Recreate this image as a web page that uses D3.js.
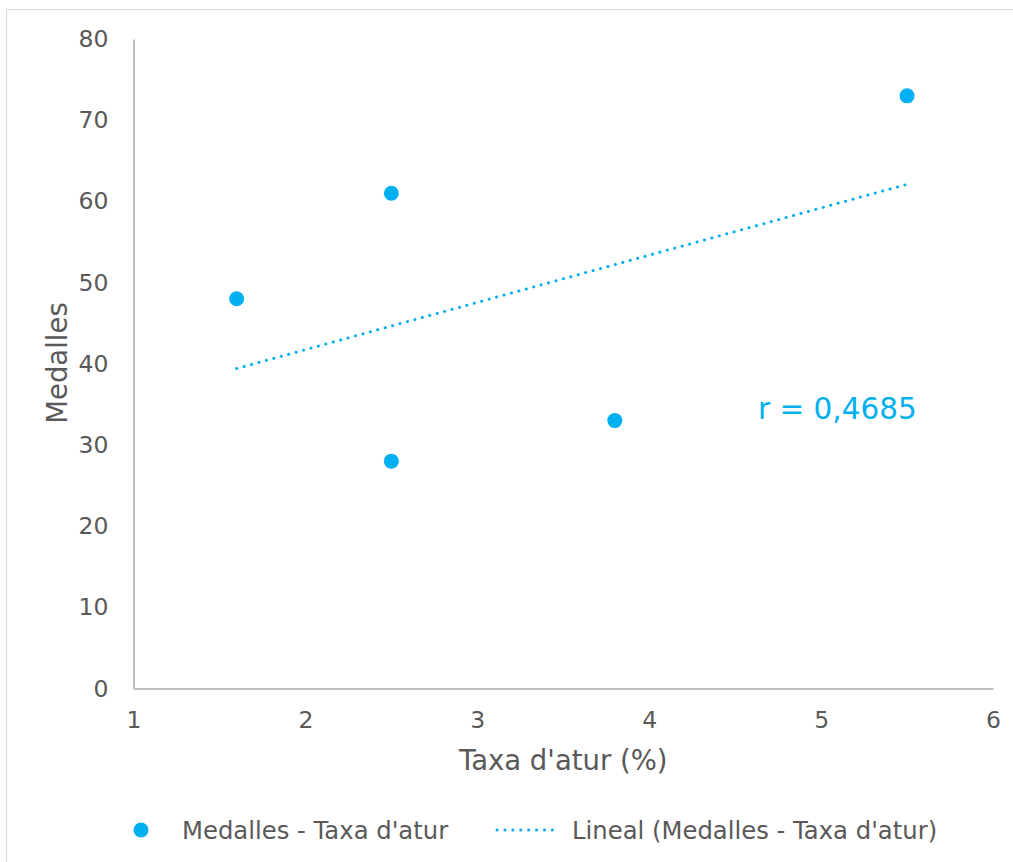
<!DOCTYPE html>
<html><head><meta charset="utf-8">
<script src="https://cdn.jsdelivr.net/npm/d3@7"></script>
<style>body{margin:0;background:#fff}svg{display:block}text{font-family:"DejaVu Sans",Verdana,sans-serif}</style>
</head><body>
<script>
const taxaAtur = [1.6, 2.5, 2.5, 3.8, 5.5];
const medalles = [48, 61, 28, 33, 73];
const xTicks = [1, 2, 3, 4, 5, 6];
const yTicks = [0, 10, 20, 30, 40, 50, 60, 70, 80];
const xTitle = "Taxa d'atur (%)";
const yTitle = "Medalles";
const seriesName = "Medalles - Taxa d'atur";
const trendName = "Lineal (Medalles - Taxa d'atur)";

const W = 1013, H = 862, color = "#00B0F0", textCol = "#595959", axisCol = "#bfbfbf";
const svg = d3.select("body").append("svg").attr("width", W).attr("height", H);
svg.append("rect").attr("x", 6.5).attr("y", 9.5).attr("width", 1030).attr("height", 880)
  .attr("fill", "#fff").attr("stroke", "#d9d9d9").attr("stroke-width", 1);

const x = d3.scaleLinear().domain([1, 6]).range([133.5, 993]);
const y = d3.scaleLinear().domain([0, 80]).range([688.5, 39]);

const xAxis = d3.axisBottom(x).tickValues(xTicks).tickSize(0).tickPadding(23).tickFormat(d3.format("d"));
const gx = svg.append("g").attr("transform", `translate(0,${y(0)})`).call(xAxis);
const yAxis = d3.axisLeft(y).tickValues(yTicks).tickSize(0).tickPadding(25).tickFormat(d3.format("d"));
const gy = svg.append("g").attr("transform", `translate(${x(1)},0)`).call(yAxis);
[gx, gy].forEach(g => {
  g.select(".domain").attr("stroke", axisCol).attr("stroke-width", 2);
  g.selectAll("text").attr("fill", textCol).attr("font-size", 23.5).attr("font-family", "DejaVu Sans");
});
gx.selectAll("text").attr("dy", "0.71em");

// regression
const n = taxaAtur.length;
const mx = d3.mean(taxaAtur), my = d3.mean(medalles);
let sxx = 0, sxy = 0, syy = 0;
for (let i = 0; i < n; i++) { const dx = taxaAtur[i]-mx, dy = medalles[i]-my; sxx += dx*dx; sxy += dx*dy; syy += dy*dy; }
const slope = sxy / sxx, icpt = my - slope * mx, r = sxy / Math.sqrt(sxx * syy);
const x0 = d3.min(taxaAtur), x1 = d3.max(taxaAtur);
svg.append("line").attr("x1", x(x0)).attr("y1", y(icpt + slope*x0)).attr("x2", x(x1)).attr("y2", y(icpt + slope*x1))
  .attr("stroke", color).attr("stroke-width", 3).attr("stroke-linecap", "round").attr("stroke-dasharray", "0.1 7.6");

svg.selectAll("circle.pt").data(taxaAtur).enter().append("circle").attr("class", "pt")
  .attr("cx", d => x(d)).attr("cy", (d, i) => y(medalles[i])).attr("r", 7.5).attr("fill", color);

svg.append("text").attr("x", 758).attr("y", 419).attr("fill", color).attr("font-size", 29.5)
  .text("r = " + r.toFixed(4).replace(".", ","));

svg.append("text").attr("x", x(3.5)).attr("y", 770).attr("text-anchor", "middle").attr("fill", textCol).attr("font-size", 27.5).text(xTitle);
svg.append("text").attr("transform", "translate(67,363) rotate(-90)").attr("text-anchor", "middle").attr("fill", textCol).attr("font-size", 27.5).text(yTitle);

// legend
const lg = svg.append("g");
lg.append("circle").attr("cx", 141).attr("cy", 830).attr("r", 7.5).attr("fill", color);
lg.append("text").attr("x", 182).attr("y", 839).attr("fill", textCol).attr("font-size", 24.3).text(seriesName);
lg.append("line").attr("x1", 497).attr("y1", 830).attr("x2", 560).attr("y2", 830)
  .attr("stroke", color).attr("stroke-width", 3).attr("stroke-linecap", "round").attr("stroke-dasharray", "0.1 7.8");
lg.append("text").attr("x", 572).attr("y", 839).attr("fill", textCol).attr("font-size", 24.3).text(trendName);
</script>
</body></html>
